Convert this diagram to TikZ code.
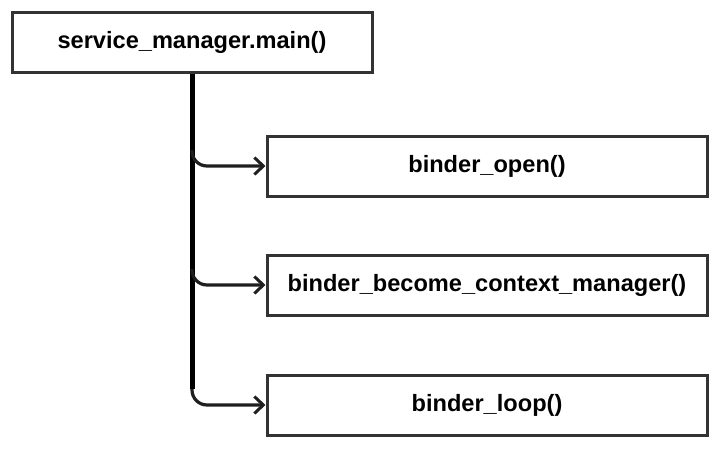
\documentclass[tikz,border=0pt]{standalone}
\usepackage{fontspec}
\setmainfont{Liberation Sans}
\usetikzlibrary{arrows.meta,calc}
\tikzset{
  box/.style={draw=black!80, line width=3pt, fill=white, minimum height=60pt, inner sep=0pt, font=\fontsize{23.6}{28}\selectfont\bfseries},
  mainbox/.style={box, minimum width=360pt},
  subbox/.style={box, minimum width=440pt},
  trunk/.style={line width=5pt, black},
  branch/.style={line width=3.2pt, black!88, rounded corners=15pt, -{Straight Barb[length=9pt,width=17pt,line width=3pt]}}
}
\begin{document}
\begin{tikzpicture}[x=1pt,y=-1pt]
\useasboundingbox (0,0) rectangle (716,448);
\node[mainbox] (main) at (192,42) {service\_manager.main()};
\node[subbox] (b1) at (487,166) {binder\_open()};
\node[subbox] (b2) at (487,285) {binder\_become\_context\_manager()};
\node[subbox] (b3) at (487,405) {binder\_loop()};
\coordinate (t1) at ($(main.south |- b1.west)+(0,-16)$);
\coordinate (t2) at ($(main.south |- b2.west)+(0,-16)$);
\coordinate (t3) at ($(main.south |- b3.west)+(0,-16)$);
\draw[trunk] (main.south) -- (t3);
\draw[branch] (t1) -- (main.south |- b1.west) -- (b1.west);
\draw[branch] (t2) -- (main.south |- b2.west) -- (b2.west);
\draw[branch] (t3) -- (main.south |- b3.west) -- (b3.west);
\end{tikzpicture}
\end{document}
